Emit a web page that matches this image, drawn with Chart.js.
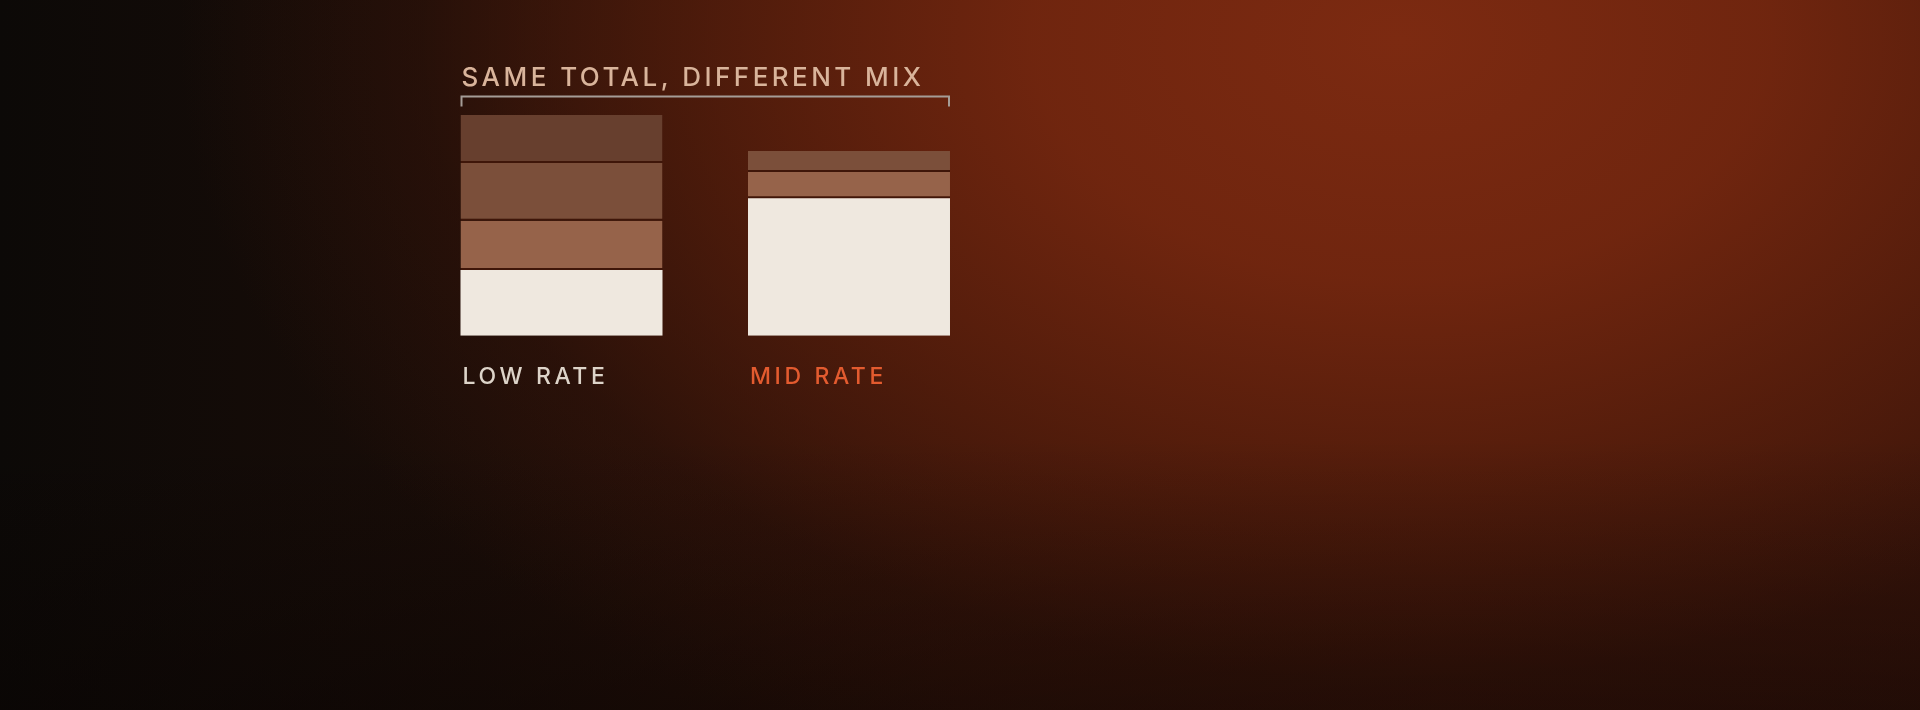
<!DOCTYPE html>
<html>
<head>
<meta charset="utf-8">
<script src="https://cdn.jsdelivr.net/npm/chart.js@4.4.1/dist/chart.umd.min.js"></script>
<style>
  html, body {
    margin: 0;
    padding: 0;
    width: 1920px;
    height: 710px;
    overflow: hidden;
  }
  body {
    background:
      linear-gradient(180deg, rgba(0,0,0,0) 62%, rgba(8,3,2,0.45) 100%),
      radial-gradient(ellipse 1220px 800px at 1400px 40px,
        rgba(124, 42, 17, 1) 0%,
        rgba(114, 38, 15, 0.96) 30%,
        rgba(92, 31, 12, 0.78) 55%,
        rgba(62, 22, 10, 0.38) 80%,
        rgba(40, 15, 8, 0) 100%),
      linear-gradient(90deg, #0c0907 0%, #1a0d08 25%, #2e1209 50%, #3a150a 75%, #35130a 100%);
  }
  canvas { display: block; }
</style>
</head>
<body>
<canvas id="chart" width="1920" height="710"></canvas>
<script>
// values, arbitrary units (LOW RATE total = 100)
const categories = ['LOW RATE', 'MID RATE'];
const baseValues = [29.8, 62.3];    // cream, bottom
const lightValues = [22.3, 11.9];
const midValues = [26.2, 9.5];
const darkValues = [21.7, 0];       // top, absent in MID RATE
const labelColors = ['#ddd4c9', '#e35b2f'];
const titleText = 'SAME TOTAL, DIFFERENT MIX';

const gapColor = '#3f1609';

function seg(label, data, color, gap) {
    return {
        label: label,
        data: data,
        backgroundColor: color,
        borderColor: gapColor,
        borderWidth: gap ? { top: 0, left: 0, right: 0, bottom: 2 } : 0,
        borderSkipped: false,
        categoryPercentage: 1,
        barPercentage: 0.7026
    };
}

const annotate = {
    id: 'annotate',
    afterDatasetsDraw(chart) {
        const ctx = chart.ctx;
        const bars = chart.getDatasetMeta(0).data;
        const area = chart.chartArea;
        const left = bars[0].x - bars[0].width / 2;
        const right = bars[1].x + bars[1].width / 2;

        ctx.save();
        // title
        ctx.font = '500 26px Inter';
        ctx.letterSpacing = '3.45px';
        ctx.fillStyle = '#d9b49b';
        ctx.textBaseline = 'alphabetic';
        ctx.textAlign = 'left';
        ctx.fillText(titleText, left + 1, area.top - 29);

        // bracket
        ctx.strokeStyle = '#a59d97';
        ctx.lineWidth = 2;
        ctx.beginPath();
        const by = area.top - 18.5;
        ctx.moveTo(left + 1, by + 10);
        ctx.lineTo(left + 1, by);
        ctx.lineTo(right - 1, by);
        ctx.lineTo(right - 1, by + 10);
        ctx.stroke();

        // category labels under each bar
        ctx.font = '500 23px Inter';
        ctx.letterSpacing = '3.6px';
        bars.forEach((b, i) => {
            ctx.fillStyle = labelColors[i];
            ctx.fillText(categories[i], b.x - b.width / 2 + 2, area.bottom + 48);
        });
        ctx.restore();
    }
};

new Chart(document.getElementById('chart'), {
    type: 'bar',
    data: {
        labels: categories,
        datasets: [
            seg('base', baseValues, '#efe8df', false),
            seg('light', lightValues, '#96634a', true),
            seg('mid', midValues, '#7b4f3a', true),
            seg('dark', darkValues, '#673f2e', true)
        ]
    },
    options: {
        responsive: false,
        devicePixelRatio: 1,
        animation: false,
        layout: {
            padding: { left: 417.75, right: 927.25, top: 115, bottom: 374.3 }
        },
        plugins: {
            legend: { display: false },
            tooltip: { enabled: false }
        },
        scales: {
            x: { stacked: true, display: false },
            y: { stacked: true, display: false, min: 0, max: 100 }
        }
    },
    plugins: [annotate]
});
</script>
</body>
</html>
